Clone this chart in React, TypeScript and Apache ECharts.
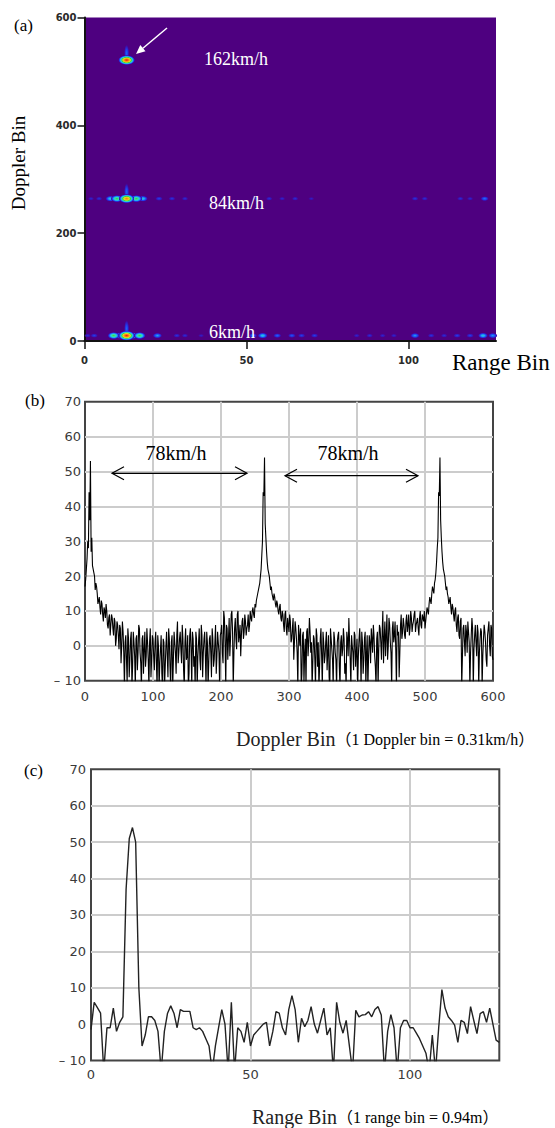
import React, { useEffect, useRef } from "react";
import * as echarts from "echarts";

const SERIF = "'Liberation Serif', 'Times New Roman', 'Noto Sans CJK JP', serif";
const SANS = "'DejaVu Sans', Verdana, sans-serif";

// ---------- (a) range-Doppler map ----------
const mapRangeTicks = [0, 50, 100];
const mapDopplerTicks = [0, 200, 400, 600];
const rowDoppler162 = 521;
const rowDoppler84 = 264;
const rowDoppler6 = 10;
// [range bin, intensity level 0..1]
const spots162: number[][] = [[13, 1.0]];
const spots84: number[][] = [
  [2, 0.18], [4.5, 0.2], [8, 0.45], [10, 0.62], [13, 0.9], [16, 0.62], [18, 0.45],
  [23, 0.25], [27, 0.22], [31, 0.2], [53, 0.18], [57, 0.2], [61, 0.18], [65, 0.2],
  [70, 0.16], [102, 0.22], [105, 0.2], [116, 0.2], [119, 0.18], [123.5, 0.32],
];
const spots6: number[][] = [
  [1, 0.2], [3, 0.25], [9, 0.62], [11, 0.55], [13, 1.0], [15, 0.55], [17, 0.62],
  [22.5, 0.4], [28.5, 0.22], [31, 0.2], [36, 0.16], [52, 0.32], [55, 0.45],
  [59.5, 0.3], [64, 0.28], [67, 0.25], [71, 0.25], [84, 0.18], [88, 0.2], [92, 0.18],
  [95.5, 0.18], [102, 0.38], [107, 0.22], [111, 0.2], [115, 0.25], [119, 0.25],
  [123, 0.45], [126, 0.38],
];
const tailSpots: number[][] = [[13, 521], [13, 264], [13, 10]];

// ---------- (b) Doppler profile ----------
// even Doppler bins 0,2,...,600
const dopplerPowerEven: number[] = [
  // 0-58
  17, 22, 30, 44, 53, 31, 22, 20, 18, 15, 13, 11, 13, 9, 11, 8, 10, 5, 9, 6, 8, 3, 7, 2, 6, -1, 5, 0, 4, -12,
  // 60-200
  3, -11, 2, -4, 4, -6, 1, -12, 3, -2,
  5, -5, 2, -8, 4, -3, 1, -12, 5, -4,
  2, -7, 4, -12, 0, -5, 3, -12, 1, -6,
  4, -9, 2, -12, 3, -4, 1, -8, 7, -2,
  4, -5, 2, -12, 5, -3, -12, 3, -1, 4,
  -6, -12, 2, -3, 5, -7, 3, -2, 4, -12,
  1, -5, 3, -9, 2, -4, 6, -3, 1, -12,
  4,
  // 202-264
  -2, 10, 1, 6, -4, 8, 2, 10, -12, 5,
  2, 9, 1, 6, 3, 8, 4, 7, 5, 9,
  6, 8, 10, 9, 12, 13, 15, 17, 20, 26,
  44, 54,
  // 266-330
  31, 24, 21, 18, 17, 14, 15, 12, 13, 10,
  11, 8, 10, 6, 9, 5, 8, 4, 7, 2,
  8, 1, 5, -2, 6, 0, -12, 3, -11, 2,
  4, -3, 8,
  // 332-470
  -2, -12, 3, -4, 5, -6, -12, 2, -3, 4,
  -5, 1, -7, 3, -12, 2, -4, 4, -2, -12,
  3, -6, 1, -3, 5, -8, -12, 2, 8, -4,
  3, -2, 4, -6, 2, -3, 5, -12, 1, -4,
  4, -2, -12, 3, -5, 2, 6, -3, -12, 4,
  -1, 5, -4, 10, 2, -3, 9, 0, 6, -2,
  5, 1, 7, -12, 3, -9, 6, 2, 8, 3,
  // 472-522
  7, 4, 9, 5, 8, 6, 9, 4, 7, 5,
  8, 6, 9, 7, 5, 9, 10, 12, 13, 15,
  16, 18, 21, 28, 44, 54,
  // 524-600
  31, 24, 21, 18, 17, 14, 13, 11, 12, 9,
  10, 6, 8, 3, 7, -12, 5, 1, 6, -2,
  4, -12, 3, 5, -1, 6, -3, 4, -2, 5,
  -12, 2, 4, -4, 3, 7, -3, 5, -4,
];
// odd Doppler bins 1,3,...,599
const dopplerPowerOdd: number[] = [
  // 1-59
  19, 25, 28, 36, 27, 23, 21, 16, 17, 12, 14, 9, 12, 7, 10, 12, 6, 8, 3, 9, 5, 8, 0, 7, 3, 6, -5, 7, -2, 1,
  // 61-199
  -4, 5, -9, 2, -12, 4, -3, 2, -7, 6,
  -2, -12, 3, -1, -6, 5, -4, 1, -9, 3,
  -3, 1, -5, 3, -12, -1, -8, 2, -12, 0,
  -3, 5, -6, 1, -12, 4, -2, 3, -5, 2,
  -1, 6, -7, 1, -4, 3, -8, 5, -12, 2,
  -3, 4, -12, 1, -4, 6, -9, 2, -3, 4,
  -12, 2, -2, 5, -6, 1, -8, 4, -2, 3,
  // 201-263
  6, -5, 8, -12, 5, 2, -3, 9, 4, -2,
  8, -1, 10, 3, -3, 7, 2, 9, 3, 6,
  4, 10, 7, 11, 8, 11, 14, 16, 18, 22,
  30, 43,
  // 265-329
  35, 27, 22, 20, 16, 15, 13, 14, 11, 12,
  9, 12, 7, 9, 4, 10, 3, 6, 9, 1,
  5, -4, 7, 2, -12, 3, 5, -8, 4, -2,
  -12, 5, 1,
  // 331-469
  4, 1, -5, 2, -12, 3, 1, -6, 5, -12,
  1, -3, 4, -2, -9, 5, -1, -12, 2, -4,
  1, 4, -12, 3, -1, 2, -5, 4, -3, 2,
  -12, 0, -7, 3, -2, -12, 2, -1, 4, -8,
  2, -12, 3, -3, 1, 5, -2, 3, -6, 2,
  -12, 6, 1, 4, -5, 7, 3, -4, 8, 1,
  -12, 7, 3, -1, 6, 4, -2, 9, 4, 6,
  // 471-521
  2, 9, 6, 3, 10, 4, 7, 10, 6, 8,
  3, 10, 5, 8, 10, 7, 11, 9, 14, 12,
  17, 15, 19, 24, 31, 43,
  // 523-599
  36, 27, 22, 20, 16, 15, 12, 14, 9, 11,
  7, 11, 4, 9, 2, 8, -12, 6, -3, 4,
  7, 1, -2, 8, -12, 3, 1, 6, -12, 2,
  4, -3, 6, 1, -6, 5, 0, 6, -3,
];

// ---------- (c) range profile (range bins 0..128) ----------
const rangePower: number[] = [
  -1.5, 6, 4.5, 3, -13, -1, -1, 4.4, -2, 0.5,
  2, 37, 51, 54, 50, 10, -6, -3, 2, 2,
  1, -2, -13, -2, 3, 5, 3, -1, 4, 3.5,
  3.5, 3.5, -1, -1.5, -1, -2, -4, -6, -13, -6,
  -1, 4, 0, -13, 6, -13, -1, -2, -5, 0.5,
  -6, -3, -2, -1, 0, 0.5, -6, -2, 3.4, 3,
  -1, -3, 4, 7.8, 4, -5, 1.6, -0.7, 1, 4.8,
  0, -2.5, 1, 4.4, -3, -1, -13, 6, 0.5, -2.5,
  1, -6, -13, 3.8, 2, 2.5, 2.6, 3.4, 2, 4,
  4.8, 2.5, -13, -2, 2.6, -1, -13, -1, 1, 1,
  -1, -1, -2.5, -4, -6, -8, -13, -3, -13, -1,
  9.5, 4.4, 2, 1, -0.3, -5, 1, 0.5, -2.6, 4.8,
  1, -2.6, 2.9, 3.4, 0.5, 4.4, 0, -4.4, -5,
];

const profileYTicks = { min: -10, max: 70, interval: 10 };

const dopplerSeries: number[][] = [];
for (let b = 0; b <= 600; b++) {
  const v = b % 2 === 0 ? dopplerPowerEven[b / 2] : dopplerPowerOdd[(b - 1) / 2];
  if (v !== undefined) dopplerSeries.push([b, v]);
}

// jet-like colour ladder of the map
const JET: [number, string][] = [
  [0, "rgba(78,0,128,0)"],
  [0.12, "#3a10b0"],
  [0.25, "#2040f0"],
  [0.4, "#20b0f0"],
  [0.52, "#30e0b0"],
  [0.62, "#40d040"],
  [0.75, "#e0e020"],
  [0.88, "#ff9010"],
  [1.0, "#f01010"],
];

function colorAt(l: number): string {
  for (let i = 1; i < JET.length; i++) {
    if (l <= JET[i][0]) {
      const t = (l - JET[i - 1][0]) / (JET[i][0] - JET[i - 1][0]);
      return echarts.color.lerp(t, [JET[i - 1][1], JET[i][1]]) as string;
    }
  }
  return JET[JET.length - 1][1];
}

function spotGradient(L: number) {
  const stops: { offset: number; color: string }[] = [{ offset: 0, color: colorAt(L) }];
  for (let i = JET.length - 1; i >= 0; i--) {
    const l = JET[i][0];
    if (l < L) stops.push({ offset: Math.pow(1 - l / L, 0.6), color: JET[i][1] });
  }
  return new echarts.graphic.RadialGradient(0.5, 0.5, 0.5, stops);
}

const spotData = [
  ...spots162.map(([r, l]) => [r, rowDoppler162, l]),
  ...spots84.map(([r, l]) => [r, rowDoppler84, l]),
  ...spots6.map(([r, l]) => [r, rowDoppler6, l]),
].sort((a, b) => a[2] - b[2]);

const renderSpot = (_p: any, api: any) => {
  const pt = api.coord([api.value(0), api.value(1)]);
  const L = api.value(2);
  const r = 2.5 + 6 * L;
  return {
    type: "circle",
    x: pt[0],
    y: pt[1],
    scaleY: 0.58,
    shape: { cx: 0, cy: 0, r },
    style: { fill: spotGradient(L) },
  };
};

const renderTail = (_p: any, api: any) => {
  const pt = api.coord([api.value(0), api.value(1)]);
  return {
    type: "circle",
    x: pt[0],
    y: pt[1] - 7,
    scaleX: 0.3,
    shape: { cx: 0, cy: 0, r: 9 },
    style: { fill: spotGradient(0.3) },
  };
};

const profileLabel = (v: number) => (v < 0 ? "\u2013 " + -v : String(v));

const txt = (x: number, y: number, text: string, size: number, extra: any = {}) => ({
  type: "text",
  x,
  y,
  z: 100,
  style: {
    text,
    fontSize: size,
    fontFamily: SERIF,
    fill: "#000",
    align: "left",
    verticalAlign: "middle",
    ...extra,
  },
});

const ln = (x1: number, y1: number, x2: number, y2: number, color = "#000", w = 1.2) => ({
  type: "line",
  z: 100,
  shape: { x1, y1, x2, y2 },
  style: { stroke: color, lineWidth: w },
});

const pl = (pts: number[][]) => ({
  type: "polyline",
  z: 100,
  shape: { points: pts },
  style: { stroke: "#000", lineWidth: 1.2, fill: null },
});

const doubleArrow = (x1: number, x2: number, y: number) => [
  ln(x1, y, x2, y),
  pl([[x1 + 12, y - 6.5], [x1, y], [x1 + 12, y + 6.5]]),
  pl([[x2 - 12, y - 6.5], [x2, y], [x2 - 12, y + 6.5]]),
];

const profileAxisLabel = {
  fontSize: 13,
  fontFamily: SANS,
  color: "#3a3a3a",
};

const option: any = {
  animation: false,
  backgroundColor: "#fff",
  grid: [
    { left: 84.5, top: 17.5, width: 411.5, height: 323.5, show: true, backgroundColor: "#4e0080", borderWidth: 0 },
    { left: 85, top: 401.7, width: 408, height: 279, show: true, backgroundColor: "#fff", borderColor: "#444", borderWidth: 2 },
    { left: 91, top: 769.3, width: 408.3, height: 291.2, show: true, backgroundColor: "#fff", borderColor: "#444", borderWidth: 2 },
  ],
  xAxis: [
    {
      gridIndex: 0,
      type: "value",
      min: 0,
      max: 127,
      axisLine: { show: true, onZero: false, lineStyle: { color: "#111", width: 2 } },
      axisTick: { show: true, length: 8, customValues: mapRangeTicks, lineStyle: { color: "#111", width: 1.5 } },
      axisLabel: { customValues: mapRangeTicks, margin: 14, fontSize: 10, fontWeight: "bold", fontFamily: SANS, color: "#2a2a2a" },
      splitLine: { show: false },
    },
    {
      gridIndex: 1,
      type: "value",
      min: 0,
      max: 600,
      interval: 100,
      axisLine: { show: false, onZero: false },
      axisTick: { show: false },
      axisLabel: { ...profileAxisLabel, margin: 9 },
      splitLine: { show: true, showMinLine: false, showMaxLine: false, lineStyle: { color: "#cccccc", width: 2 } },
    },
    {
      gridIndex: 2,
      type: "value",
      min: 0,
      max: 128,
      interval: 50,
      axisLine: { show: false, onZero: false },
      axisTick: { show: false },
      axisLabel: { ...profileAxisLabel, margin: 7, showMaxLabel: false },
      splitLine: { show: true, showMinLine: false, showMaxLine: false, lineStyle: { color: "#cccccc", width: 2 } },
    },
  ],
  yAxis: [
    {
      gridIndex: 0,
      type: "value",
      min: 0,
      max: 600,
      interval: 200,
      axisLine: { show: true, onZero: false, lineStyle: { color: "#111", width: 2 } },
      axisTick: { show: true, length: 7, customValues: mapDopplerTicks, lineStyle: { color: "#111", width: 1.5 } },
      axisLabel: { margin: 8, fontSize: 10, fontWeight: "bold", fontFamily: SANS, color: "#2a2a2a" },
      splitLine: { show: false },
    },
    {
      gridIndex: 1,
      type: "value",
      ...profileYTicks,
      axisLine: { show: false, onZero: false },
      axisTick: { show: false },
      axisLabel: { ...profileAxisLabel, margin: 4, formatter: profileLabel },
      splitLine: { show: true, showMinLine: false, showMaxLine: false, lineStyle: { color: "#cccccc", width: 2 } },
    },
    {
      gridIndex: 2,
      type: "value",
      ...profileYTicks,
      axisLine: { show: false, onZero: false },
      axisTick: { show: false },
      axisLabel: { ...profileAxisLabel, margin: 5, formatter: profileLabel },
      splitLine: { show: true, showMinLine: false, showMaxLine: false, lineStyle: { color: "#cccccc", width: 2 } },
    },
  ],
  series: [
    {
      type: "custom",
      xAxisIndex: 0,
      yAxisIndex: 0,
      clip: true,
      encode: { x: 0, y: 1 },
      data: tailSpots,
      renderItem: renderTail,
    },
    {
      type: "custom",
      xAxisIndex: 0,
      yAxisIndex: 0,
      clip: true,
      encode: { x: 0, y: 1 },
      data: spotData,
      renderItem: renderSpot,
    },
    {
      type: "line",
      xAxisIndex: 1,
      yAxisIndex: 1,
      showSymbol: false,
      clip: true,
      data: dopplerSeries,
      lineStyle: { color: "#000", width: 1.1 },
    },
    {
      type: "line",
      xAxisIndex: 2,
      yAxisIndex: 2,
      showSymbol: false,
      clip: true,
      data: rangePower.map((v, i) => [i, v]),
      lineStyle: { color: "#222", width: 1.4 },
    },
  ],
  graphic: [
    txt(14, 25, "(a)", 17),
    txt(25, 400, "(b)", 17),
    txt(24, 770, "(c)", 17),
    { ...txt(18, 163, "Doppler Bin", 19, { align: "center" }), rotation: Math.PI / 2 },
    txt(452, 362, "Range Bin", 23),
    txt(204, 59, "162km/h", 18, { fill: "#fff" }),
    txt(209, 203, "84km/h", 18, { fill: "#fff" }),
    txt(209, 332, "6km/h", 18, { fill: "#fff" }),
    ln(167, 28, 142.9, 48.2, "#fff", 1.5),
    {
      type: "polygon",
      z: 100,
      shape: { points: [[136, 54], [145.5, 51.3], [140.3, 45.1]] },
      style: { fill: "#fff" },
    },
    txt(176, 452.5, "78km/h", 20, { align: "center" }),
    txt(348, 452.5, "78km/h", 20, { align: "center" }),
    ...doubleArrow(112, 247, 473.3),
    ...doubleArrow(285, 418, 475.7),
    txt(236, 739, "{a|Doppler Bin}{b|（1 Doppler bin = 0.31km/h）}", 16, {
      rich: {
        a: { fontSize: 20, fontFamily: SERIF, fill: "#222" },
        b: { fontSize: 16, fontFamily: SERIF, fill: "#000" },
      },
    }),
    txt(252, 1117, "{a|Range Bin}{b|（1 range bin = 0.94m）}", 16, {
      rich: {
        a: { fontSize: 20, fontFamily: SERIF, fill: "#222" },
        b: { fontSize: 16, fontFamily: SERIF, fill: "#000" },
      },
    }),
  ],
};

export default function App() {
  const ref = useRef<HTMLDivElement>(null);
  useEffect(() => {
    document.body.style.margin = "0";
    const chart = echarts.init(ref.current as HTMLDivElement, null, { renderer: "svg" });
    chart.setOption(option);
    return () => chart.dispose();
  }, []);
  return <div ref={ref} style={{ width: 555, height: 1128 }} />;
}
